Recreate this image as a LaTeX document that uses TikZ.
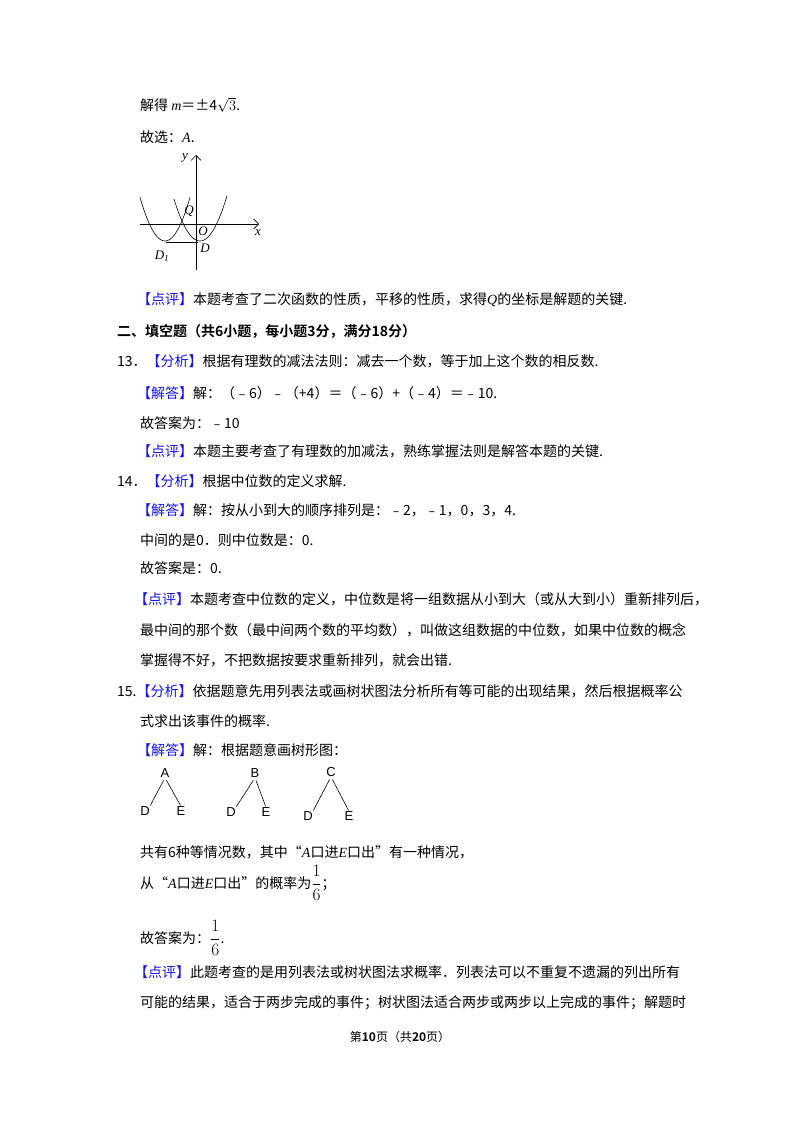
\documentclass[tikz,border=0pt]{standalone}
\usepackage{amsmath}
\usepackage{fontspec}
\usetikzlibrary{arrows.meta}
\setmainfont{Noto Sans CJK SC}[BoldFont={Noto Sans CJK SC Bold}]
\newfontfamily\ser{Liberation Serif}
\newfontfamily\ars{Liberation Sans}
\newcommand\mi[1]{{\ser\itshape #1}}
\newcommand\fr{{\fontsize{17}{17}\selectfont$\dfrac{1}{6}$}}
\definecolor{bk}{RGB}{20,20,230}
\newcommand\bk[1]{\textcolor{bk}{【#1】}}
\begin{document}
\begin{tikzpicture}[x=1pt,y=-1pt,
  every node/.style={inner sep=0,anchor=west,font=\fontsize{14}{14}\selectfont},
  lbl/.style={anchor=center,font=\ser\itshape\fontsize{13}{13}\selectfont},
  tl/.style={anchor=center,font=\ars\fontsize{13}{13}\selectfont},
  ax/.style={line width=0.6pt,-{Straight Barb[length=5pt]}},
  cv/.style={line width=0.6pt},
  br/.style={line width=0.6pt}]
\useasboundingbox (0,0) rectangle (800,1132);
\node (l1) at (140,105) {解得 \mi{m}＝±4$\sqrt{3}$.};
\node (l2) at (140,137) {故选：\mi{A}.};
% graph
\coordinate (xa) at (140,224); \coordinate (xb) at (259,224);
\coordinate (ya) at (196,270); \coordinate (yb) at (196,155);
\draw[ax] (xa) -- (xb);
\draw[ax] (ya) -- (yb);
\draw[cv] plot[domain=174:227,samples=60,smooth] (\x,{241-0.062*(\x-200)*(\x-200)});
\draw[cv] plot[domain=140:190,samples=60,smooth] (\x,{241-0.07*(\x-165)*(\x-165)});
\coordinate (d1p) at (166,242); \coordinate (dp) at (198,242);
\draw[br] (d1p) -- (dp);
\node[lbl] (ly) at (185,158) {y};
\node[lbl] (lq) at (189,211) {Q};
\node[lbl] (lo) at (203,231) {O};
\node[lbl] (lx) at (258,233) {x};
\node[lbl] (ld) at (205,248) {D};
\node[lbl] (ld1) at (162,256) {D\textsubscript{1}};
\node (l3) at (137,300) {\bk{点评}本题考查了二次函数的性质，平移的性质，求得\mi{Q}的坐标是解题的关键.};
\node (l4) at (117,331) {\textbf{二、填空题（共6小题，每小题3分，满分18分）}};
\node (l5) at (117,361) {13．\bk{分析}根据有理数的减法法则：减去一个数，等于加上这个数的相反数.};
\node (l6) at (137,393) {\bk{解答}解：（﹣6）﹣（+4）＝（﹣6）+（﹣4）＝﹣10.};
\node (l7) at (140,423) {故答案为：﹣10};
\node (l8) at (137,451) {\bk{点评}本题主要考查了有理数的加减法，熟练掌握法则是解答本题的关键.};
\node (l9) at (117,481) {14．\bk{分析}根据中位数的定义求解.};
\node (l10) at (137,510) {\bk{解答}解：按从小到大的顺序排列是：﹣2，﹣1，0，3，4.};
\node (l11) at (140,540) {中间的是0．则中位数是：0.};
\node (l12) at (140,568) {故答案是：0.};
\node (l13) at (134,599) {\bk{点评}本题考查中位数的定义，中位数是将一组数据从小到大（或从大到小）重新排列后，};
\node (l14) at (140,630) {最中间的那个数（最中间两个数的平均数），叫做这组数据的中位数，如果中位数的概念};
\node (l15) at (140,660) {掌握得不好，不把数据按要求重新排列，就会出错.};
\node (l16) at (117,691) {15.\bk{分析}依据题意先用列表法或画树状图法分析所有等可能的出现结果，然后根据概率公};
\node (l17) at (140,721) {式求出该事件的概率.};
\node (l18) at (137,750) {\bk{解答}解：根据题意画树形图：};
% trees
\node[tl] (ta) at (165,773) {A}; \node[tl] (tad) at (145,811) {D}; \node[tl] (tae) at (181,811) {E};
\node[tl] (tb) at (255,773) {B}; \node[tl] (tbd) at (231,812) {D}; \node[tl] (tbe) at (266,812) {E};
\node[tl] (tc) at (331,772) {C}; \node[tl] (tcd) at (308,816) {D}; \node[tl] (tce) at (349,816) {E};
\foreach \p/\c in {ta/tad,tb/tbd,tc/tcd}
  \draw[br,shorten <=3pt,shorten >=1pt] (\p.south) -- (\c.north east);
\foreach \p/\c in {ta/tae,tb/tbe,tc/tce}
  \draw[br,shorten <=3pt,shorten >=1pt] (\p.south) -- (\c.north);
\node (l19) at (140,852) {共有6种等情况数，其中“\mi{A}口进\mi{E}口出”有一种情况，};
\node (l20) at (140,883) {从“\mi{A}口进\mi{E}口出”的概率为\fr；};
\node (l21) at (140,938) {故答案为：\fr.};
\node (l22) at (134,972) {\bk{点评}此题考查的是用列表法或树状图法求概率．列表法可以不重复不遗漏的列出所有};
\node (l23) at (140,1003) {可能的结果，适合于两步完成的事件；树状图法适合两步或两步以上完成的事件；解题时};
\node[anchor=center,font=\fontsize{12}{12}\selectfont] (ft) at (400,1037) {第\textbf{10}页（共\textbf{20}页）};
\end{tikzpicture}
\end{document}
